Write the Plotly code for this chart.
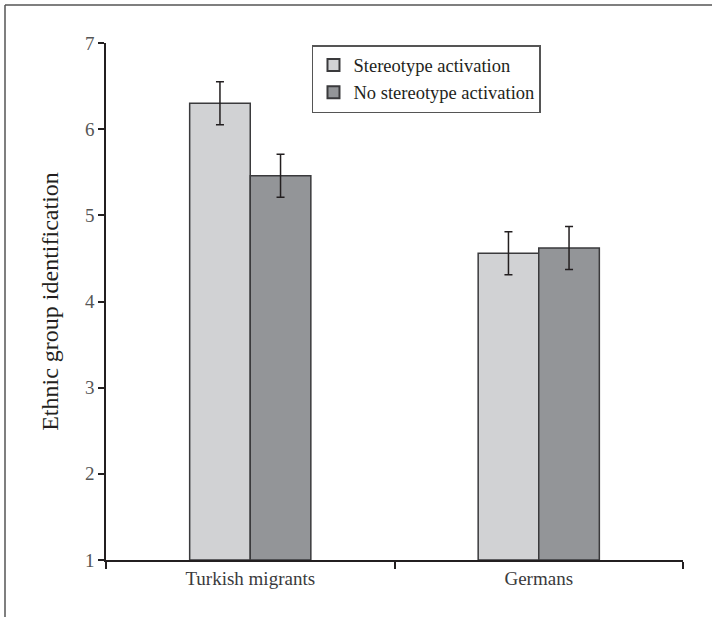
import plotly.graph_objects as go

categories = ["Turkish migrants", "Germans"]
series_names = ["Stereotype activation", "No stereotype activation"]
stereo_vals = [6.30, 4.56]
stereo_err = [0.25, 0.25]
nostereo_vals = [5.46, 4.62]
nostereo_err = [0.25, 0.25]
y_ticks = [1, 2, 3, 4, 5, 6, 7]

FONT = "Liberation Serif"
fig = go.Figure()
fig.add_trace(go.Bar(
    name=series_names[0], x=categories, y=[v - 1 for v in stereo_vals], base=1,
    marker=dict(color="#d1d2d4", line=dict(color="#3a3a3c", width=1.5)),
    error_y=dict(type="data", array=stereo_err, color="#231f20", thickness=1.5, width=4),
))
fig.add_trace(go.Bar(
    name=series_names[1], x=categories, y=[v - 1 for v in nostereo_vals], base=1,
    marker=dict(color="#939598", line=dict(color="#3a3a3c", width=1.5)),
    error_y=dict(type="data", array=nostereo_err, color="#231f20", thickness=1.5, width=4),
))

fig.update_layout(
    width=712, height=617,
    margin=dict(l=106, r=29, t=43, b=57),
    paper_bgcolor="white", plot_bgcolor="white",
    barmode="group", bargap=0.58, bargroupgap=0,
    font=dict(family=FONT, color="#231f20"),
    showlegend=True,
    legend=dict(
        x=0.357, y=0.996, xanchor="left", yanchor="top",
        bordercolor="#555555", borderwidth=1.5, bgcolor="white",
        font=dict(family=FONT, size=18.5, color="#231f20"),
        tracegroupgap=0, itemsizing="constant",
    ),
    xaxis=dict(
        showline=True, linecolor="#231f20", linewidth=1.5,
        ticks="outside", tickson="boundaries", ticklen=7, tickcolor="#231f20", tickwidth=1.5,
        tickfont=dict(family=FONT, size=19, color="#3a3a3c"),
        showgrid=False, zeroline=False,
    ),
    yaxis=dict(
        range=[1, 7], tickvals=y_ticks,
        showline=True, linecolor="#231f20", linewidth=1.5,
        ticks="outside", ticklen=6, tickcolor="#231f20", tickwidth=1.5,
        tickfont=dict(family=FONT, size=19, color="#555555"),
        showgrid=False, zeroline=False,
        title=dict(text="Ethnic group identification", font=dict(family=FONT, size=24, color="#231f20"), standoff=20),
    ),
)

# outer frame (top and left edges)
fig.add_shape(type="line", xref="paper", yref="paper",
              x0=(5 - 106) / 577, x1=(712 - 106) / 577, y0=(560 - 5) / 517, y1=(560 - 5) / 517,
              line=dict(color="#555555", width=1.5))
fig.add_shape(type="line", xref="paper", yref="paper",
              x0=(5 - 106) / 577, x1=(5 - 106) / 577, y0=(560 - 5) / 517, y1=(560 - 617) / 517,
              line=dict(color="#555555", width=1.5))

fig.write_html("out.html", config={"displayModeBar": False},
               post_script="document.body.style.margin='0';document.body.style.padding='0';")
